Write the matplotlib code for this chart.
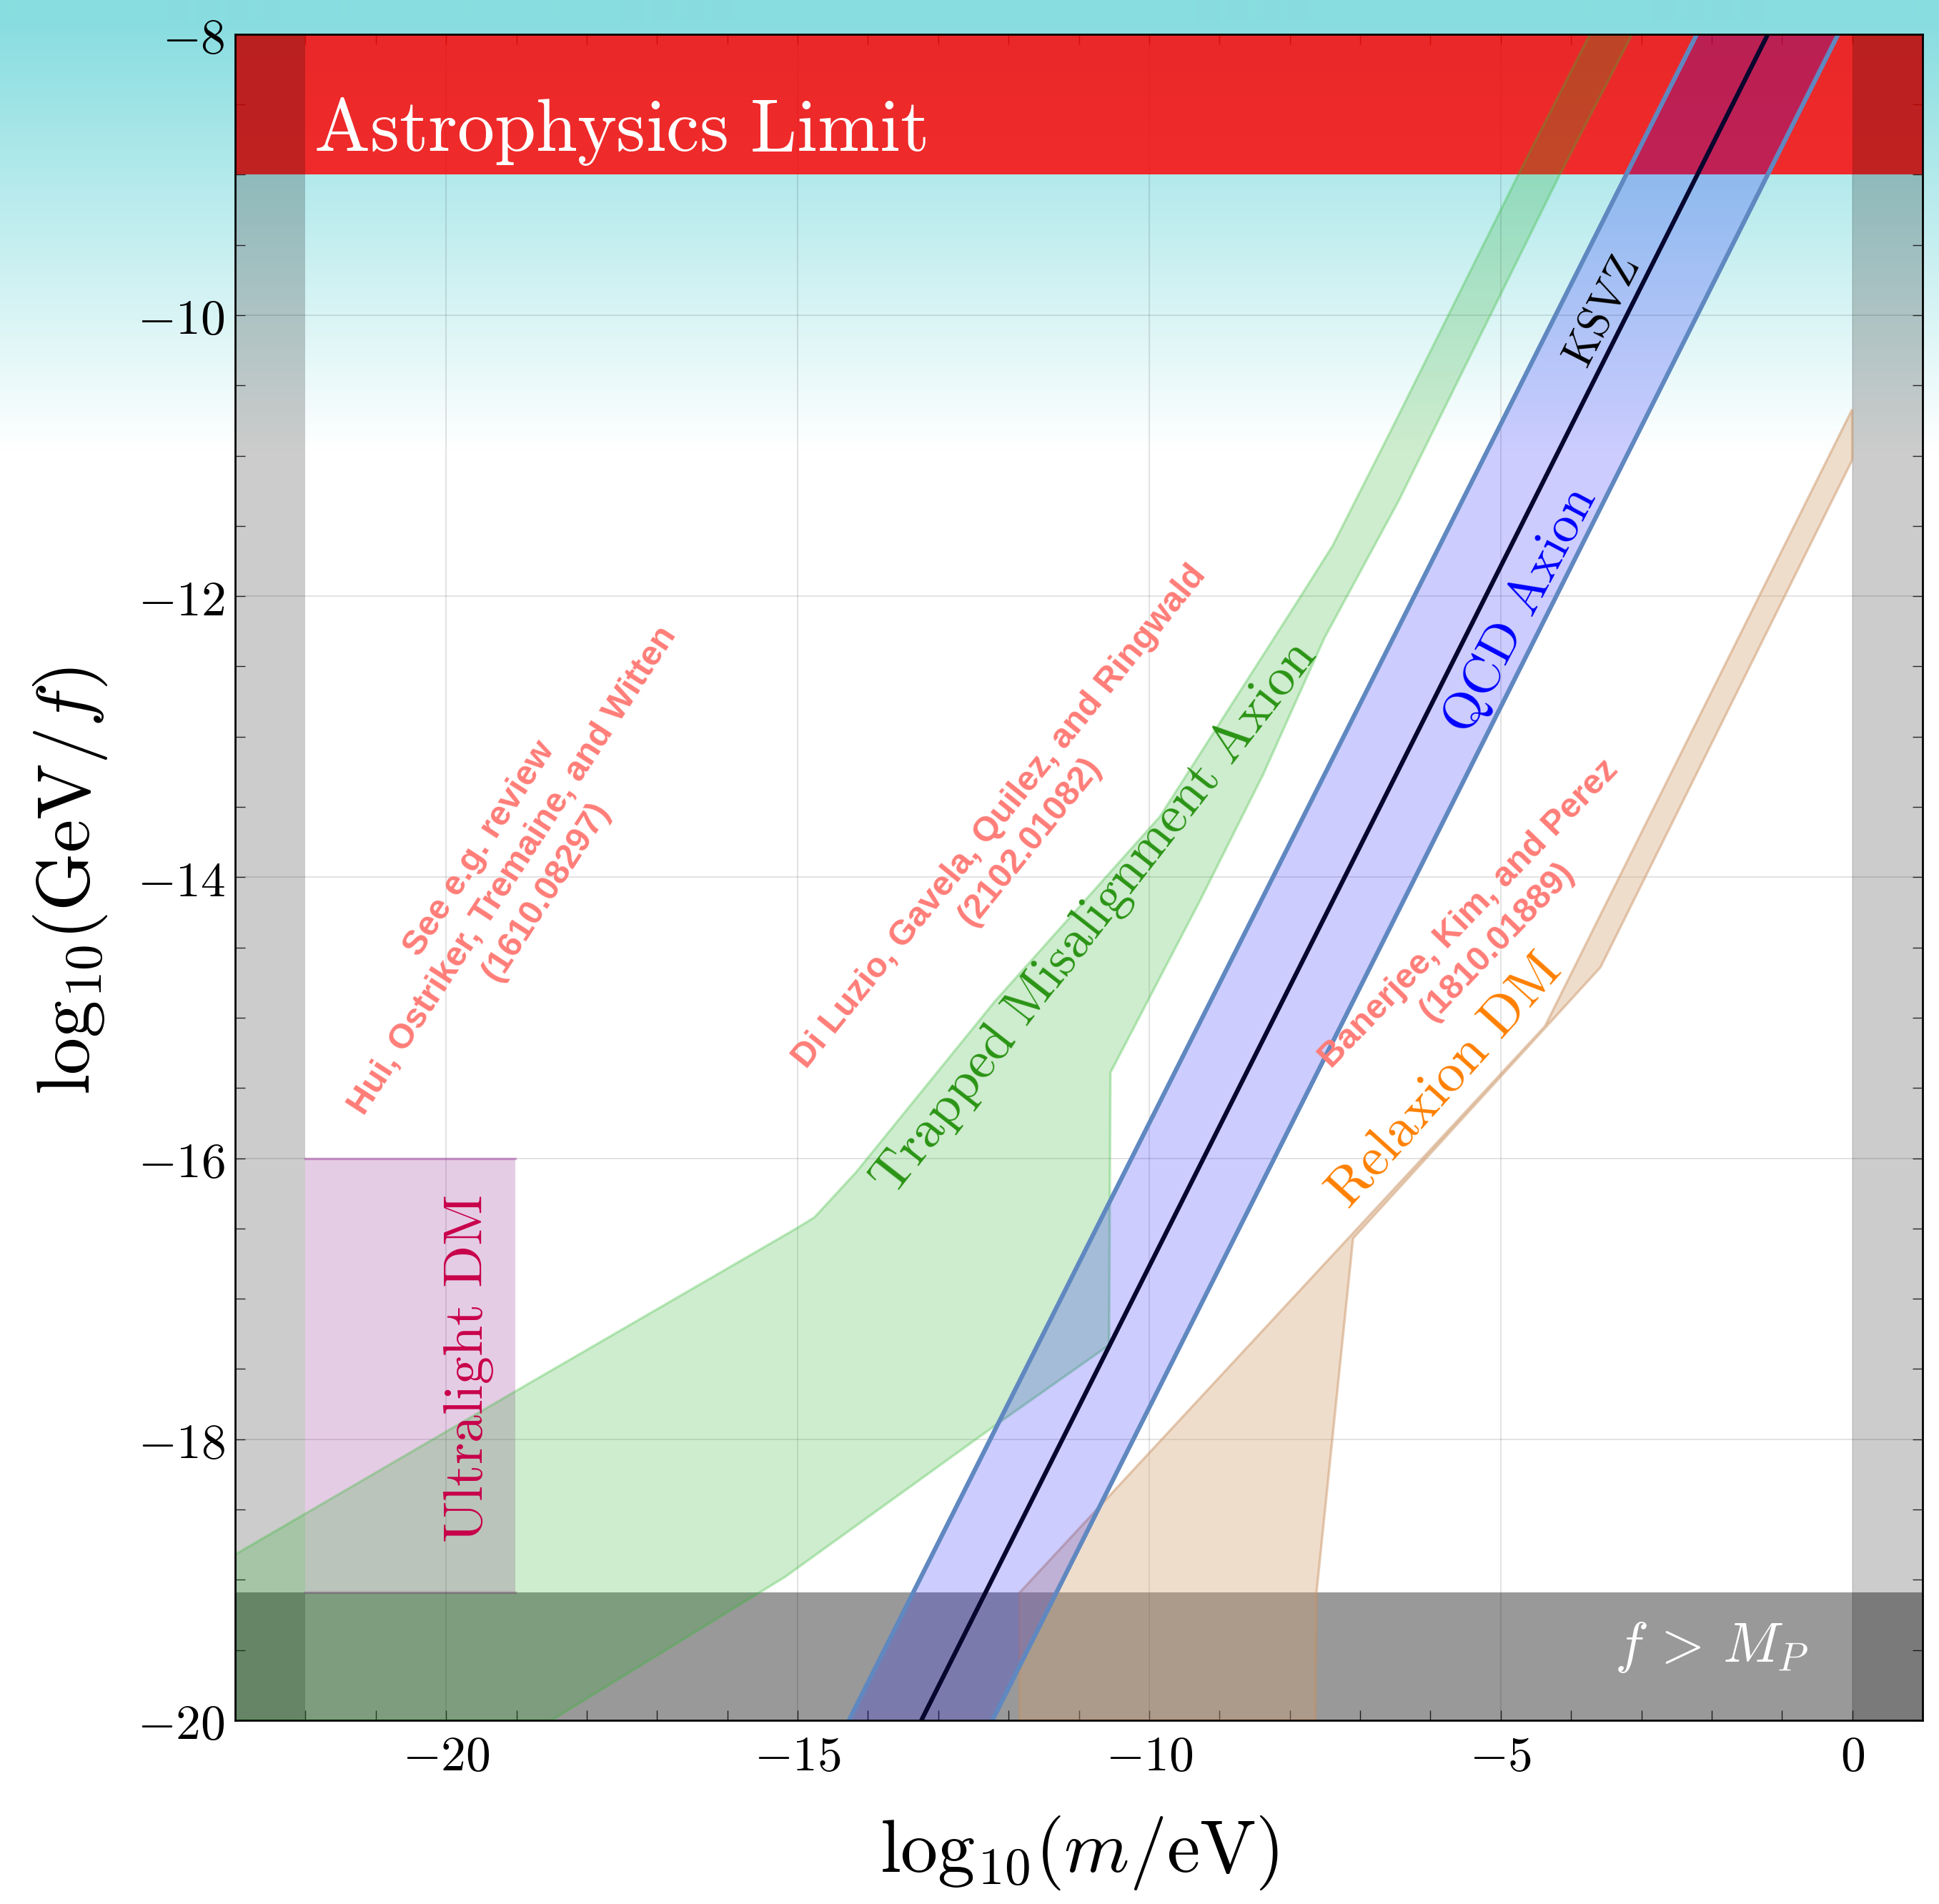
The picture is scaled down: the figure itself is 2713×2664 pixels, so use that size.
import numpy as np
import matplotlib
matplotlib.use("Agg")
import matplotlib.pyplot as plt
from matplotlib.patches import Polygon, Rectangle
from matplotlib.ticker import FixedLocator, MultipleLocator, FixedFormatter

plt.rcParams["mathtext.fontset"] = "cm"
plt.rcParams["font.family"] = ["DejaVu Sans"]

# ---------------- data ----------------
x_range = [-23.0, 1.0]
y_range = [-20.0, -8.0]
x_ticks = [-20, -15, -10, -5, 0]
x_tick_labels = [r"$-20$", r"$-15$", r"$-10$", r"$-5$", r"$0$"]
y_ticks = [-20, -18, -16, -14, -12, -10, -8]
y_tick_labels = [r"$-20$", r"$-18$", r"$-16$", r"$-14$", r"$-12$", r"$-10$", r"$-8$"]

astro_band_y = [-9.0, -8.0]
planck_band_y = [-20.0, -19.09]
left_band_x = [-23.0, -22.0]
right_band_x = [0.0, 1.0]
ultralight_x = [-22.0, -19.02]
ultralight_y = [-19.09, -16.0]

qcd_y = [-20.0, -8.0]
qcd_center_x = [-13.24, -1.20]
qcd_left_x = [-14.27, -2.21]
qcd_right_x = [-12.23, -0.20]

trapped_x = [-23.0, -19.02, -15.02, -14.76, -14.17, -12.19, -9.85, -7.92, -7.39, -6.53, -4.76, -3.73,
             -3.13, -4.17, -6.45, -7.51, -8.38, -9.26, -10.55, -10.57, -12.13, -15.18, -18.5, -23.0]
trapped_y = [-18.82, -17.66, -16.50, -16.42, -16.10, -14.88, -13.57, -12.06, -11.64, -10.79, -9.01, -8.0,
             -8.0, -9.01, -11.32, -12.30, -13.27, -14.15, -15.39, -17.33, -17.88, -18.98, -20.0, -20.0]

relaxion_x = [-11.84, -11.84, -4.37, 0.0, 0.0, -3.58, -7.10, -7.62, -7.64]
relaxion_y = [-20.0, -19.09, -15.06, -10.67, -11.03, -14.64, -16.57, -19.09, -20.0]

# ---------------- figure ----------------
W, H, DPI = 2713, 2664, 100
fig = plt.figure(figsize=(W / DPI, H / DPI), dpi=DPI)

# gradient background (cyan at top fading to white)
bg = fig.add_axes([0, 0, 1, 1], zorder=-10)
rows = np.arange(H)
s = np.clip((rows - 30) / (630 - 30), 0, 1)
top = np.array([136, 221, 224]) / 255.0
white = np.ones(3)
grad = (1 - s)[:, None] * top[None, :] + s[:, None] * white[None, :]
bg.imshow(grad[:, None, :], extent=[0, 1, 0, 1], aspect="auto", interpolation="bilinear")
bg.set_axis_off()

ax = fig.add_axes([329 / W, 1 - 2407 / H, (2690 - 329) / W, (2407 - 47.8) / H])
ax.set_facecolor("none")
ax.set_xlim(x_range)
ax.set_ylim(y_range)

# bands
ax.add_patch(Rectangle((x_range[0], astro_band_y[0]), x_range[1] - x_range[0],
                       astro_band_y[1] - astro_band_y[0], facecolor=(1, 0, 0), alpha=0.82,
                       lw=0, zorder=1))
for bx in (left_band_x, right_band_x):
    ax.add_patch(Rectangle((bx[0], y_range[0]), bx[1] - bx[0], y_range[1] - y_range[0],
                           facecolor="k", alpha=0.2, lw=0, zorder=1.1))
ax.add_patch(Rectangle((x_range[0], planck_band_y[0]), x_range[1] - x_range[0],
                       planck_band_y[1] - planck_band_y[0], facecolor="k", alpha=0.4,
                       lw=0, zorder=1.2))

# ultralight box
ax.add_patch(Rectangle((ultralight_x[0], ultralight_y[0]), ultralight_x[1] - ultralight_x[0],
                       ultralight_y[1] - ultralight_y[0], facecolor="purple", alpha=0.2,
                       lw=0, zorder=1.3))
for yy in ultralight_y:
    ax.plot(ultralight_x, [yy, yy], color="purple", alpha=0.3, lw=2.5, zorder=1.35)

# trapped misalignment
ax.add_patch(Polygon(np.column_stack([trapped_x, trapped_y]), closed=True,
                     facecolor="#22aa22", alpha=0.22, lw=0, zorder=1.4))
ax.add_patch(Polygon(np.column_stack([trapped_x, trapped_y]), closed=True,
                     facecolor="none", edgecolor="#33bb33", alpha=0.3, lw=2.5, zorder=1.45))

# relaxion
ax.add_patch(Polygon(np.column_stack([relaxion_x, relaxion_y]), closed=True,
                     facecolor="#d2a06e", alpha=0.35, lw=0, zorder=1.5))
ax.add_patch(Polygon(np.column_stack([relaxion_x, relaxion_y]), closed=True,
                     facecolor="none", edgecolor="#c89060", alpha=0.45, lw=2.5, zorder=1.55))

# QCD axion band
ax.fill_betweenx(qcd_y, qcd_left_x, qcd_right_x, facecolor="blue", alpha=0.2, lw=0, zorder=1.6)
ax.plot(qcd_left_x, qcd_y, color="#6088c0", lw=4.5, zorder=1.7, solid_capstyle="butt")
ax.plot(qcd_right_x, qcd_y, color="#6088c0", lw=4.5, zorder=1.7, solid_capstyle="butt")
ax.plot(qcd_center_x, qcd_y, color="#06062e", lw=4.5, zorder=1.8, solid_capstyle="butt")

# ticks, grid
ax.xaxis.set_major_locator(FixedLocator(x_ticks))
ax.xaxis.set_major_formatter(FixedFormatter(x_tick_labels))
ax.yaxis.set_major_locator(FixedLocator(y_ticks))
ax.yaxis.set_major_formatter(FixedFormatter(y_tick_labels))
ax.xaxis.set_minor_locator(MultipleLocator(1))
ax.yaxis.set_minor_locator(MultipleLocator(0.5))
ax.tick_params(which="both", direction="in", top=True, right=True, length=10, width=1.0,
               color="#333333")
ax.tick_params(axis="x", which="major", labelsize=50, pad=12)
ax.tick_params(axis="y", which="major", labelsize=50, pad=10)
ax.grid(True, which="major", color="k", alpha=0.12, lw=1.3)
ax.set_axisbelow(True)
for sp in ax.spines.values():
    sp.set_linewidth(2.0)
    sp.set_zorder(5)

ax.set_xlabel(r"$\mathrm{log}_{10}(m/\mathrm{eV})$", fontsize=75, va="center")
ax.xaxis.set_label_coords(0.5, -0.0788)
ax.set_ylabel(r"$\mathrm{log}_{10}(\mathrm{GeV}/f)$", fontsize=75, va="center")
ax.yaxis.set_label_coords(-0.0978, 0.498)

# labels
ax.text(-21.88, -8.83, r"$\mathrm{Astrophysics\ Limit}$", color="white", fontsize=75,
        ha="left", va="baseline", zorder=6)
ax.text(-19.69, -17.50, r"$\mathrm{Ultralight\ DM}$", color="#c8004a", fontsize=56,
        rotation=90, ha="center", va="center", zorder=6)
ax.text(-10.77, -14.29, r"$\mathrm{Trapped\ Misalignment\ Axion}$", color="#2a9414",
        fontsize=54, rotation=52, ha="center", va="center", zorder=6)
ax.text(-4.73, -12.10, r"$\mathrm{QCD\ Axion}$", color="blue", fontsize=53, rotation=62,
        ha="center", va="center", zorder=6)
ax.text(-3.55, -9.98, r"$\mathrm{KSVZ}$", color="black", fontsize=44, rotation=63,
        ha="center", va="center", zorder=6)
ax.text(-5.80, -15.45, r"$\mathrm{Relaxion\ DM}$", color="#ff8000", fontsize=56, rotation=48,
        ha="center", va="center", zorder=6)
ax.text(-2.0, -19.48, r"$f\,>\,M_P$", color="white", fontsize=57, ha="center", va="center",
        zorder=6)

cite_kw = dict(color="#ff7d78", fontsize=35, fontweight="bold", family="Liberation Sans",
               ha="center", va="center", multialignment="center", linespacing=1.3, zorder=6)
ax.text(-19.05, -13.95, "See e.g. review\nHui, Ostriker, Tremaine, and Witten\n(1610.08297)",
        rotation=57, **cite_kw)
ax.text(-11.91, -13.66, "Di Luzio, Gavela, Quilez, and Ringwald\n(2102.01082)",
        rotation=51, **cite_kw)
ax.text(-5.25, -14.36, "Banerjee, Kim, and Perez\n(1810.01889)", rotation=46, **cite_kw)

fig.savefig("out.png", dpi=DPI)
